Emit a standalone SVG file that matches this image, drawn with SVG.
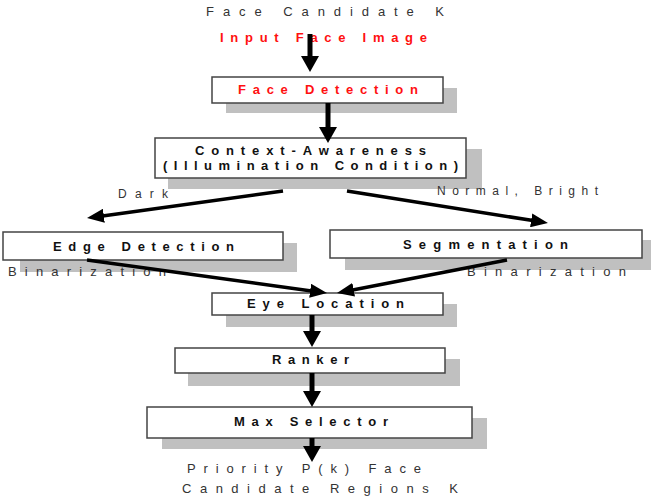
<svg xmlns="http://www.w3.org/2000/svg" width="651" height="498" viewBox="0 0 651 498">
<style>
.bg{fill:#fff}
.shadow{fill:#c0c0c0}
.box{fill:#fff;stroke:#444;stroke-width:1.5}
.b{font-family:"Liberation Sans",Arial,sans-serif;font-weight:bold;font-size:13px;fill:#111}
.red{fill:#ff1010}
.r{font-family:"Liberation Sans",Arial,sans-serif;font-size:13px;fill:#333}
.s{font-size:12px}
.v{stroke:#000;stroke-width:5;fill:none;marker-end:url(#ah)}
.d{stroke:#000;stroke-width:3.5;fill:none;marker-end:url(#ad)}
</style>
<defs>
<marker id="ah" viewBox="0 0 16 18" refX="4" refY="9" markerWidth="16" markerHeight="18" markerUnits="userSpaceOnUse" orient="auto"><path d="M0,0 L16,9 L0,18 z" fill="#000"/></marker>
<marker id="ad" viewBox="0 0 17 14" refX="5" refY="7" markerWidth="17" markerHeight="14" markerUnits="userSpaceOnUse" orient="auto"><path d="M0,0 L17,7 L0,14 z" fill="#000"/></marker>
</defs>
<rect class="bg" x="0" y="0" width="651" height="498"/>
<g id="face-detection">
<rect class="shadow" x="226" y="88" width="231" height="25"/>
<rect class="box" x="212" y="77" width="231" height="26"/>
<text class="b red" x="238" y="94" textLength="180" lengthAdjust="spacing">Face Detection</text>
</g>
<g id="context-awareness">
<rect class="shadow" x="168" y="149" width="314" height="40"/>
<rect class="box" x="155" y="138" width="311" height="40"/>
<text class="b" x="195" y="155" textLength="231" lengthAdjust="spacing">Context-Awareness</text>
<text class="b" x="163" y="170" textLength="295" lengthAdjust="spacing">(Illumination Condition)</text>
</g>
<g id="edge-detection">
<rect class="shadow" x="20" y="243" width="277" height="29"/>
<rect class="box" x="3" y="232" width="280" height="28"/>
<text class="b" x="53" y="251" textLength="181" lengthAdjust="spacing">Edge Detection</text>
</g>
<g id="segmentation">
<rect class="shadow" x="345" y="240" width="310" height="30"/>
<rect class="box" x="330" y="230" width="312" height="28"/>
<text class="b" x="403" y="249" textLength="165" lengthAdjust="spacing">Segmentation</text>
</g>
<g id="eye-location">
<rect class="shadow" x="226" y="304" width="231" height="23"/>
<rect class="box" x="212" y="293" width="231" height="22"/>
<text class="b" x="247" y="308" textLength="157" lengthAdjust="spacing">Eye Location</text>
</g>
<g id="ranker">
<rect class="shadow" x="188" y="359" width="272" height="27"/>
<rect class="box" x="175" y="348" width="270" height="25"/>
<text class="b" x="272" y="364" textLength="77" lengthAdjust="spacing">Ranker</text>
</g>
<g id="max-selector">
<rect class="shadow" x="162" y="418" width="325" height="31"/>
<rect class="box" x="147" y="407" width="325" height="31"/>
<text class="b" x="234" y="426" textLength="154" lengthAdjust="spacing">Max Selector</text>
</g>
<g id="labels">
<text class="r" x="206" y="16" textLength="238" lengthAdjust="spacing">Face Candidate K</text>
<text class="b red" x="220" y="42" textLength="207" lengthAdjust="spacing">Input Face Image</text>
<text class="r s" x="118" y="198" textLength="50" lengthAdjust="spacing">Dark</text>
<text class="r s" x="437" y="195" textLength="161" lengthAdjust="spacing">Normal, Bright</text>
<text class="r" x="8" y="276" textLength="158" lengthAdjust="spacing">Binarization</text>
<text class="r" x="467" y="276" textLength="159" lengthAdjust="spacing">Binarization</text>
<text class="r" x="187" y="473" textLength="234" lengthAdjust="spacing">Priority P(k) Face</text>
<text class="r" x="182" y="493" textLength="276" lengthAdjust="spacing">Candidate Regions K</text>
</g>
<g id="connectors">
<line class="v" x1="310" y1="34" x2="310" y2="60"/>
<line class="v" x1="328" y1="103" x2="328" y2="131"/>
<line class="d" x1="283" y1="191" x2="98.9" y2="216.4"/>
<line class="d" x1="347" y1="191" x2="536.1" y2="221.1"/>
<line class="d" x1="87" y1="260" x2="315.1" y2="291.4"/>
<line class="d" x1="507" y1="260" x2="348.8" y2="290.7"/>
<line class="v" x1="312" y1="315" x2="312" y2="335"/>
<line class="v" x1="312" y1="373" x2="312" y2="395"/>
<line class="v" x1="312" y1="438" x2="312" y2="450"/>
</g>
</svg>
